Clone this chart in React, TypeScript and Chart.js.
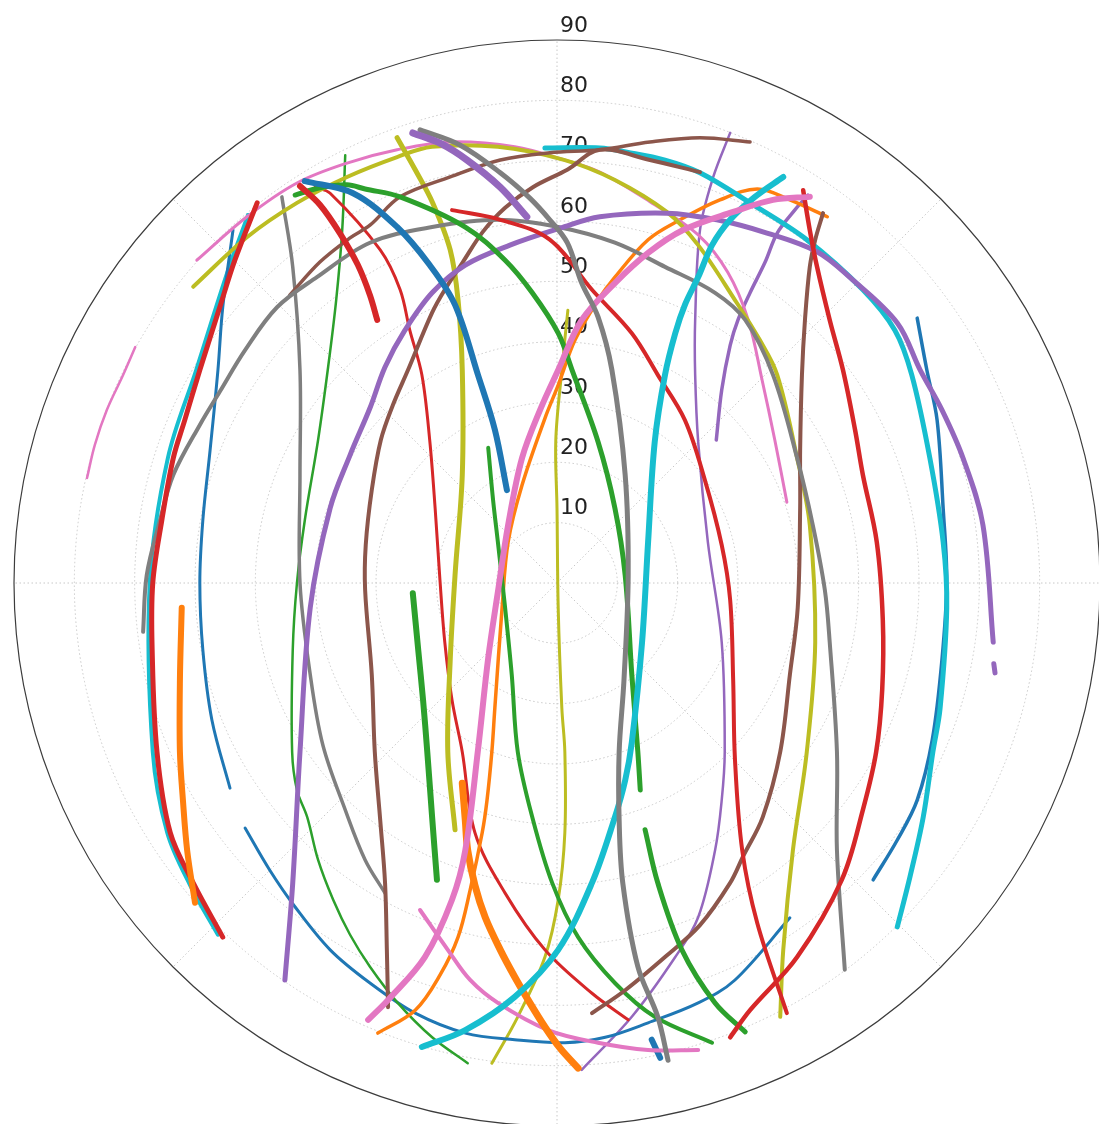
import React, { useEffect, useRef } from 'react';
import { Chart, registerables } from 'chart.js';

Chart.register(...registerables);

// Sky tracks: each point is [east, north] offset from the zenith, in degrees of zenith angle.
type Pt = [number, number];

const radialTicks = [10, 20, 30, 40, 50, 60, 70, 80, 90];
const radialMax = 90;
const spokeAngles = [0, 45, 90, 135, 180, 225, 270, 315];

const trackBlue1: Pt[] = [[-41.8, 66.6], [-33.8, 64.6], [-26.5, 59.0], [-21.1, 52.7], [-16.9, 46.1], [-13.1, 34.5], [-10.3, 25.4], [-8.3, 15.4]];
const trackBlue2a: Pt[] = [[-53.7, 58.5], [-55.4, 45.7], [-56.2, 35.3], [-57.5, 22.0], [-58.7, 10.4], [-59.2, 0], [-58.7, -11.1], [-57.2, -22.7], [-54.2, -34.0]];
const trackBlue2b: Pt[] = [[-51.7, -40.6], [-47.6, -47.6], [-43.4, -53.7], [-37.6, -60.8], [-31.0, -66.3], [-23.5, -71.3], [-15.2, -74.6], [-7.0, -75.7], [1.3, -76.2], [8.0, -75.3], [15.1, -72.9], [23.4, -69.6], [29.5, -65.8], [38.6, -55.5]];
const trackBlue3: Pt[] = [[59.7, 43.9], [61.3, 35.3], [63.0, 27.0], [64.0, 12.4], [64.6, 0.2], [63.8, -12.8], [62.2, -26.0], [59.7, -36.0], [56.4, -42.6], [52.4, -49.2]];
const trackBlue4: Pt[] = [[15.7, -75.7], [17.1, -78.7]];

const trackOrange1: Pt[] = [[-62.2, -4.1], [-62.5, -16.1], [-62.5, -28.0], [-62.0, -36.0], [-61.3, -44.3], [-60.0, -53.0]];
const trackOrange2: Pt[] = [[44.8, 60.7], [38.6, 63.5], [33.2, 65.3], [27.0, 63.5], [20.4, 60.2], [15.1, 56.9], [9.6, 50.7], [6.8, 46.9], [3.0, 40.3], [0.2, 32.8], [-2.0, 27.3], [-5.8, 16.2], [-8.1, 6.8], [-9.1, -4.1], [-10.3, -20.7], [-10.8, -28.0], [-11.6, -36.0], [-12.4, -41.4], [-14.4, -50.9], [-16.4, -58.7], [-19.4, -65.0], [-23.5, -70.8], [-29.7, -74.6]];
const trackOrange3: Pt[] = [[-15.7, -33.2], [-15.2, -39.3], [-14.8, -44.3], [-13.6, -50.1], [-11.9, -55.4], [-9.4, -60.8], [-7.0, -65.3], [-4.5, -69.6], [-2.0, -73.6], [0.5, -77.1], [3.5, -80.4]];

const trackGreen1a: Pt[] = [[-43.4, 64.3], [-39.3, 65.5], [-34.8, 66.0], [-31.8, 65.3], [-26.0, 64.0], [-15.2, 59.0], [-8.6, 53.5], [-4.1, 48.1], [0.2, 41.4], [2.5, 35.3], [6.8, 23.4], [9.6, 12.4], [11.3, 1.3], [12.4, -15.2], [13.4, -28.0], [13.8, -34.3]];
const trackGreen1b: Pt[] = [[14.6, -40.9], [16.7, -49.7], [20.7, -60.8], [26.2, -69.6], [31.2, -74.4]];
const trackGreen2: Pt[] = [[-35.1, 70.9], [-35.6, 58.5], [-36.6, 46.9], [-38.0, 35.3], [-39.6, 23.7], [-41.8, 10.4], [-43.1, 0], [-43.8, -11.1], [-43.9, -28.0], [-43.1, -34.3], [-41.4, -38.8], [-39.6, -45.9], [-37.1, -52.5], [-34.3, -58.3], [-31.0, -63.6], [-26.4, -69.6], [-20.7, -75.3], [-14.8, -79.6]];
const trackGreen3: Pt[] = [[-11.4, 22.4], [-10.6, 13.8], [-9.8, 6.8], [-8.6, -4.1], [-7.5, -15.2], [-6.5, -28.0], [-4.1, -38.8], [-0.8, -49.7], [3.5, -58.7], [9.6, -66.3], [16.2, -71.9], [25.7, -76.2]];
const trackGreen4: Pt[] = [[-23.9, -1.7], [-23.0, -11.1], [-22.2, -19.4], [-21.5, -28.0], [-20.7, -38.8], [-19.9, -49.2]];

const trackRed1: Pt[] = [[-49.7, 63.0], [-53.4, 53.5], [-55.9, 45.7], [-59.2, 35.3], [-61.7, 27.0], [-63.6, 20.7], [-65.5, 10.4], [-67.0, 0], [-67.1, -11.1], [-66.3, -28.0], [-64.1, -41.4], [-60.3, -49.7], [-55.4, -58.7]];
const trackRed2: Pt[] = [[-42.6, 65.8], [-39.3, 62.7], [-36.0, 58.0], [-33.0, 52.7], [-31.0, 47.7], [-29.8, 43.6]];
const trackRed3: Pt[] = [[-40.1, 65.6], [-37.6, 64.6], [-29.3, 55.2], [-26.0, 48.6], [-24.4, 41.9], [-22.4, 34.5], [-21.1, 23.7], [-20.2, 12.4], [-19.4, 0.5], [-18.6, -9.8], [-17.4, -19.4], [-15.7, -28.0], [-13.6, -41.4], [-8.6, -51.4], [-2.0, -60.8], [5.8, -68.0], [11.8, -72.4]];
const trackRed4: Pt[] = [[-17.4, 61.8], [-9.4, 60.2], [-1.2, 56.9], [5.8, 48.6], [12.4, 41.4], [16.7, 34.5], [21.2, 27.0], [24.5, 17.1], [27.3, 6.3], [28.7, -2.8], [29.2, -16.1], [29.5, -29.3], [30.7, -44.3], [33.2, -56.4], [38.1, -71.3]];
const trackRed5: Pt[] = [[40.8, 65.1], [41.9, 58.5], [43.1, 52.4], [45.2, 43.6], [47.4, 35.3], [49.4, 25.4], [50.7, 17.9], [53.0, 6.8], [54.0, -6.1], [53.9, -17.7], [52.9, -28.0], [50.7, -37.6], [47.2, -49.2], [39.8, -62.0], [32.0, -70.8], [28.7, -75.3]];

const trackPurple1: Pt[] = [[-23.9, 74.6], [-19.4, 72.9], [-14.9, 70.1], [-9.4, 65.6], [-5.0, 60.7]];
const trackPurple2: Pt[] = [[-45.1, -65.8], [-43.8, -49.7], [-42.6, -28.0], [-40.9, -4.1], [-37.6, 12.4], [-34.3, 21.2], [-31.0, 29.0], [-28.5, 35.8], [-25.2, 41.9], [-20.7, 48.1], [-15.2, 52.7], [-7.8, 56.0], [0.5, 58.8], [7.1, 60.7], [18.2, 61.3], [26.5, 60.2], [34.8, 58.0], [43.1, 54.9], [48.6, 50.6], [56.4, 43.1], [60.2, 35.3], [63.8, 28.7], [67.3, 20.7], [70.6, 9.6], [72.3, -9.8]];
const trackPurple2b: Pt[] = [[72.4, -13.4], [72.6, -14.9]];
const trackPurple3: Pt[] = [[28.7, 74.6], [25.9, 67.3], [23.7, 58.5], [22.9, 43.6], [22.9, 34.5], [23.4, 23.4], [25.0, 6.8], [27.3, -9.8], [27.8, -28.0], [27.3, -36.0], [26.2, -44.3], [23.4, -55.4], [19.6, -62.0], [12.4, -71.9], [4.1, -80.7]];
const trackPurple4: Pt[] = [[41.6, 64.3], [39.4, 61.8], [36.5, 58.0], [34.5, 53.2], [32.0, 48.1], [30.0, 43.6], [28.7, 39.4], [27.3, 32.0], [26.4, 23.7]];

const trackBrown1: Pt[] = [[23.7, 68.1], [15.4, 70.1], [7.1, 71.8], [1.7, 68.5], [-4.0, 65.6], [-8.6, 62.2], [-12.3, 58.2], [-15.6, 53.2], [-18.6, 48.6], [-20.7, 44.8], [-24.7, 35.3], [-27.2, 29.5], [-29.2, 23.7], [-30.7, 15.4], [-31.7, 6.3], [-31.8, -1.2], [-30.7, -15.2], [-30.2, -28.0], [-29.3, -39.3], [-28.5, -49.7], [-28.2, -60.8], [-28.0, -70.3]];
const trackBrown2: Pt[] = [[-44.3, 47.7], [-39.3, 53.2], [-34.3, 57.2], [-31.0, 59.3], [-26.0, 64.0], [-17.7, 67.3], [-9.4, 70.1], [-1.2, 71.3], [7.1, 71.8], [15.4, 73.1], [23.7, 73.8], [32.0, 73.1]];
const trackBrown3: Pt[] = [[44.1, 61.3], [42.8, 56.9], [41.9, 52.4], [41.1, 43.6], [40.6, 34.5], [40.3, 22.0], [40.3, 12.4], [39.9, -4.1], [38.6, -15.2], [37.0, -28.0], [34.1, -38.8], [30.8, -45.4], [28.7, -49.7], [23.7, -56.7], [17.9, -62.0], [11.3, -67.5], [5.8, -71.3]];

const trackGray1: Pt[] = [[-68.6, -8.1], [-68.0, 1.3], [-65.8, 10.4], [-63.6, 17.9], [-59.2, 26.2], [-55.9, 31.7], [-51.7, 38.6], [-46.4, 45.7], [-39.8, 50.7], [-31.0, 56.4], [-20.7, 59.0], [-9.8, 60.2], [0.2, 59.0], [9.6, 56.4], [17.9, 52.4], [26.2, 48.1], [31.2, 43.6], [35.8, 34.5], [39.8, 20.7], [42.4, 9.6], [44.4, -1.2], [45.2, -9.8], [46.4, -28.0], [46.4, -44.3], [47.7, -64.1]];
const trackGray2: Pt[] = [[-45.6, 64.0], [-43.8, 52.4], [-42.6, 35.3], [-42.6, 17.9], [-42.6, 0], [-40.9, -15.2], [-38.8, -26.9], [-35.1, -37.6], [-31.8, -45.9], [-28.5, -51.4]];
const trackGray3: Pt[] = [[-22.7, 75.1], [-16.1, 72.6], [-9.4, 68.0], [-4.5, 63.8], [-1.2, 60.2], [1.7, 56.4], [4.1, 49.7], [6.8, 44.1], [9.1, 35.3], [11.3, 17.9], [11.8, 1.3], [11.1, -16.1], [10.3, -28.0], [10.3, -39.3], [10.9, -49.7], [13.4, -63.6], [16.7, -71.9], [18.4, -79.1]];

const trackPink1: Pt[] = [[-59.7, 53.5], [-51.4, 60.7], [-43.1, 66.3], [-34.8, 69.6], [-26.5, 71.8], [-17.7, 73.1], [-7.0, 72.3], [1.3, 70.1], [7.1, 68.1], [15.4, 63.2], [23.4, 57.7], [28.3, 51.5], [31.7, 43.6], [34.0, 33.6], [36.1, 23.7], [38.1, 13.4]];
const trackPink2: Pt[] = [[-69.9, 39.1], [-71.9, 34.5], [-74.6, 28.7], [-76.6, 22.9], [-77.9, 17.4]];
const trackPink3: Pt[] = [[41.9, 64.0], [35.8, 63.5], [29.2, 61.5], [20.9, 58.5], [15.1, 54.7], [9.6, 49.7], [4.1, 43.6], [0.2, 35.3], [-2.8, 28.7], [-5.8, 20.7], [-8.1, 9.6], [-9.8, -1.5], [-11.4, -12.4], [-13.1, -27.7], [-15.2, -44.3], [-17.4, -52.5], [-21.9, -62.0], [-28.0, -69.1], [-31.3, -72.4]];
const trackPink4: Pt[] = [[-22.7, -54.2], [-18.1, -60.8], [-14.4, -65.8], [-9.8, -69.6], [-1.5, -74.1], [6.8, -76.2], [15.1, -77.4], [23.4, -77.4]];

const trackOlive1: Pt[] = [[-60.3, 49.1], [-51.4, 57.3], [-43.1, 63.0], [-34.8, 67.3], [-26.5, 70.6], [-20.7, 72.3], [-9.8, 72.3], [1.3, 70.1], [9.6, 66.8], [18.2, 61.5], [23.4, 56.0], [29.5, 46.9], [33.6, 40.3], [36.5, 34.5], [39.8, 20.7], [41.9, 9.6], [42.8, -9.8], [41.4, -28.0], [39.1, -44.3], [37.5, -60.8], [37.0, -71.9]];
const trackOlive2: Pt[] = [[-26.5, 73.8], [-23.5, 68.5], [-20.6, 63.0], [-17.7, 55.2], [-16.4, 46.9], [-15.7, 35.3], [-15.7, 17.9], [-16.9, 1.3], [-17.7, -12.8], [-18.1, -28.0], [-16.9, -40.9]];
const trackOlive3: Pt[] = [[1.8, 45.2], [0.8, 35.3], [-0.2, 23.7], [0, 12.4], [0.2, -4.1], [0.8, -20.7], [1.3, -28.0], [1.3, -41.4], [0.2, -52.5], [-2.0, -62.0], [-6.5, -71.9], [-10.8, -79.6]];

const trackCyan1: Pt[] = [[-2.0, 72.1], [7.1, 72.1], [11.6, 71.4], [17.9, 70.1], [23.7, 68.0], [32.0, 63.0], [41.4, 56.9], [50.7, 48.6], [56.0, 41.9], [58.8, 34.5], [61.8, 20.7], [64.0, 6.8], [64.6, -4.1], [63.5, -20.7], [62.3, -28.0], [60.7, -38.8], [58.5, -48.7], [56.4, -57.0]];
const trackCyan2: Pt[] = [[37.5, 67.3], [32.8, 64.0], [28.7, 60.2], [25.7, 56.0], [23.4, 50.7], [21.2, 46.1], [19.6, 41.4], [17.9, 34.5], [16.2, 23.4], [15.1, 6.8], [14.1, -9.8], [12.4, -26.4], [11.3, -32.7], [9.6, -38.8], [5.8, -49.7], [0.2, -60.8], [-7.0, -68.6], [-15.2, -74.1], [-22.4, -76.9]];
const trackCyan3: Pt[] = [[-51.2, 61.0], [-54.5, 51.9], [-59.8, 35.3], [-64.5, 20.7], [-67.5, 0], [-67.0, -28.0], [-64.6, -41.4], [-60.8, -50.1], [-56.2, -58.3]];

const BLUE = '#1f77b4';
const ORANGE = '#ff7f0e';
const GREEN = '#2ca02c';
const RED = '#d62728';
const PURPLE = '#9467bd';
const BROWN = '#8c564b';
const PINK = '#e377c2';
const GRAY = '#7f7f7f';
const OLIVE = '#bcbd22';
const CYAN = '#17becf';

// first entry is drawn on top
const seriesList: { data: Pt[]; color: string; width: number }[] = [
  { data: trackPurple1, color: PURPLE, width: 7 },
  { data: trackGray3, color: GRAY, width: 5 },
  { data: trackBlue1, color: BLUE, width: 6 },
  { data: trackPink3, color: PINK, width: 6 },
  { data: trackCyan2, color: CYAN, width: 6 },
  { data: trackOrange3, color: ORANGE, width: 7 },
  { data: trackGreen4, color: GREEN, width: 6 },
  { data: trackOrange1, color: ORANGE, width: 6 },
  { data: trackRed2, color: RED, width: 6 },
  { data: trackRed5, color: RED, width: 4.5 },
  { data: trackRed4, color: RED, width: 4 },
  { data: trackGreen1a, color: GREEN, width: 5 },
  { data: trackGreen1b, color: GREEN, width: 5 },
  { data: trackPurple2, color: PURPLE, width: 5 },
  { data: trackPurple2b, color: PURPLE, width: 5 },
  { data: trackRed1, color: RED, width: 5 },
  { data: trackGray1, color: GRAY, width: 4 },
  { data: trackBrown1, color: BROWN, width: 4 },
  { data: trackBrown2, color: BROWN, width: 3.5 },
  { data: trackBrown3, color: BROWN, width: 4 },
  { data: trackOlive2, color: OLIVE, width: 5 },
  { data: trackOlive1, color: OLIVE, width: 4 },
  { data: trackPink1, color: PINK, width: 3 },
  { data: trackCyan1, color: CYAN, width: 5 },
  { data: trackBlue3, color: BLUE, width: 3.5 },
  { data: trackGreen3, color: GREEN, width: 4 },
  { data: trackPink4, color: PINK, width: 4 },
  { data: trackOrange2, color: ORANGE, width: 3.5 },
  { data: trackRed3, color: RED, width: 3 },
  { data: trackGray2, color: GRAY, width: 3.5 },
  { data: trackGreen2, color: GREEN, width: 2.5 },
  { data: trackBlue2a, color: BLUE, width: 3 },
  { data: trackBlue2b, color: BLUE, width: 3 },
  { data: trackPurple3, color: PURPLE, width: 2.5 },
  { data: trackPurple4, color: PURPLE, width: 3.5 },
  { data: trackOlive3, color: OLIVE, width: 3 },
  { data: trackPink2, color: PINK, width: 2.5 },
  { data: trackBlue4, color: BLUE, width: 6 },
  { data: trackCyan3, color: CYAN, width: 4 },
];

const polarGrid = {
  id: 'polarGrid',
  beforeDatasetsDraw(chart: any) {
    const { ctx } = chart;
    const xs = chart.scales.x;
    const ys = chart.scales.y;
    const cx = xs.getPixelForValue(0);
    const cy = ys.getPixelForValue(0);
    const unit = xs.getPixelForValue(1) - cx;
    ctx.save();
    ctx.strokeStyle = '#c8c8c8';
    ctx.lineWidth = 1;
    ctx.setLineDash([1.5, 2.5]);
    radialTicks.forEach((r) => {
      if (r >= radialMax) return;
      ctx.beginPath();
      ctx.arc(cx, cy, r * unit, 0, Math.PI * 2);
      ctx.stroke();
    });
    spokeAngles.forEach((a) => {
      const rad = (a * Math.PI) / 180;
      ctx.beginPath();
      ctx.moveTo(cx, cy);
      ctx.lineTo(xs.getPixelForValue(radialMax * Math.sin(rad)), ys.getPixelForValue(radialMax * Math.cos(rad)));
      ctx.stroke();
    });
    ctx.setLineDash([]);
    ctx.strokeStyle = '#3c3c3c';
    ctx.lineWidth = 1.2;
    ctx.beginPath();
    ctx.arc(cx, cy, radialMax * unit, 0, Math.PI * 2);
    ctx.stroke();
    ctx.fillStyle = '#222222';
    ctx.font = '22px "DejaVu Sans", sans-serif';
    ctx.textAlign = 'left';
    ctx.textBaseline = 'middle';
    radialTicks.forEach((r) => {
      ctx.fillText(String(r), cx + 3, ys.getPixelForValue(r) - 14);
    });
    ctx.restore();
  },
};

export default function App() {
  const ref = useRef<HTMLCanvasElement | null>(null);
  useEffect(() => {
    if (!ref.current) return;
    const chart = new Chart(ref.current, {
      type: 'scatter',
      data: {
        datasets: seriesList.map((s) => ({
          data: s.data.map(([e, n]) => ({ x: e, y: n })),
          showLine: true,
          borderColor: s.color,
          backgroundColor: s.color,
          borderWidth: s.width,
          pointRadius: 0,
          pointHoverRadius: 0,
          tension: 0.35,
          borderCapStyle: 'round',
          borderJoinStyle: 'round',
          fill: false,
        })),
      },
      options: {
        animation: false,
        responsive: false,
        events: [],
        layout: { padding: { left: 20, right: 20, top: 40, bottom: 20 } },
        plugins: { legend: { display: false }, tooltip: { enabled: false } },
        scales: {
          x: { type: 'linear', min: -radialMax, max: radialMax, display: false },
          y: { type: 'linear', min: -radialMax, max: radialMax, display: false },
        },
      },
      plugins: [polarGrid],
    } as any);
    return () => chart.destroy();
  }, []);
  return (
    <div style={{ position: 'fixed', left: 0, top: 0, width: 1099, height: 1124, overflow: 'hidden', background: '#ffffff' }}>
      <canvas ref={ref} width={1126} height={1146} style={{ position: 'absolute', left: -6, top: 0, width: 1126, height: 1146 }} />
    </div>
  );
}
